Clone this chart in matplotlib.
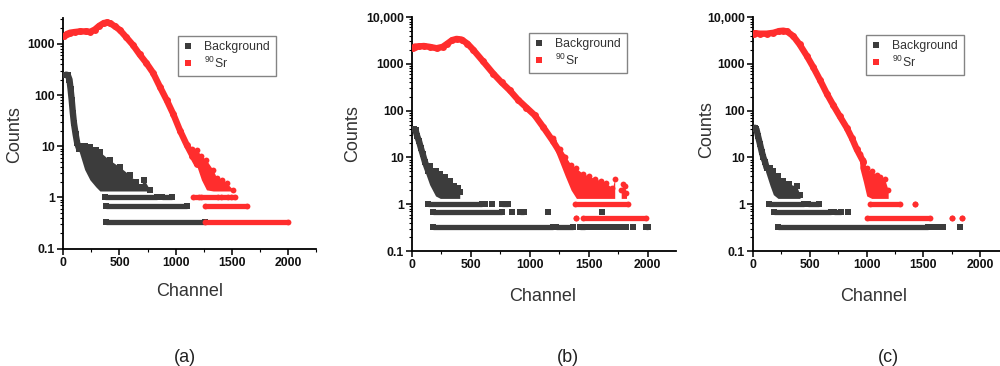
import numpy as np
import matplotlib
matplotlib.use("Agg")
import matplotlib.pyplot as plt
from matplotlib.lines import Line2D
from matplotlib.ticker import FixedLocator, FixedFormatter, MultipleLocator, LogLocator, NullFormatter

plt.rcParams['font.family'] = ['Liberation Sans', 'DejaVu Sans']
plt.rcParams['mathtext.default'] = 'regular'

GRAY = '#3c3c3c'
RED = '#ff2d2d'

x_ticks = [0, 500, 1000, 1500, 2000]
x_tick_labels = ['0', '500', '1000', '1500', '2000']
y_ticks_a = [0.1, 1, 10, 100, 1000]
y_tick_labels_a = ['0.1', '1', '10', '100', '1000']
y_ticks_bc = [0.1, 1, 10, 100, 1000, 10000]
y_tick_labels_bc = ['0.1', '1', '10', '100', '1000', '10,000']
legend_labels = ['Background', r'$^{90}$Sr']
panel_labels = ['(a)', '(b)', '(c)']

# ---------------- panel (a) ----------------
a_sr_ch = [10, 30, 60, 100, 150, 200, 240, 280, 320, 360, 390, 420, 460, 505, 560, 620, 680, 740, 800, 860, 920, 980, 1040, 1100, 1150, 1190]
a_sr_ct = [1400, 1550, 1650, 1700, 1750, 1750, 1720, 1900, 2250, 2550, 2620, 2500, 2200, 1850, 1350, 950, 620, 420, 270, 145, 80, 42, 20, 10.5, 6.5, 4.5]
a_sr_noise_ch = [1150, 1190, 1230, 1275, 1335, 1365, 1410, 1455, 1513]
a_sr_noise_hi = [9, 8.4, 6.5, 5.3, 3.4, 2.4, 2.2, 1.9, 1.4]
a_sr_noise_lo = [6, 4, 2.2, 1.4, 1.33, 1.33, 1.33, 1.33, 1.33]
a_sr_run_start = [1157, 1230, 1400, 1490, 1260, 1260]
a_sr_run_stop = [1205, 1380, 1470, 1528, 1632, 2002]
a_sr_run_level = [1.0, 1.0, 1.0, 1.0, 0.667, 0.333]

a_bg_ch = [25, 40, 55, 65, 75, 85, 95, 110, 124, 140]
a_bg_ct = [250, 245, 200, 130, 80, 45, 28, 17, 11.4, 9]
a_bg_noise_ch = [140, 190, 237, 290, 326, 415, 504, 593, 650, 682, 720, 771]
a_bg_noise_hi = [10, 10, 9.7, 8.5, 7.7, 5.3, 3.9, 2.7, 2.0, 1.6, 2.2, 1.4]
a_bg_noise_lo = [8, 3.5, 2.2, 1.6, 1.33, 1.33, 1.33, 1.33, 1.33, 1.33, 1.33, 1.33]
a_bg_run_start = [370, 876, 376, 376]
a_bg_run_stop = [831, 965, 1097, 1260]
a_bg_run_level = [1.0, 1.0, 0.667, 0.333]

# ---------------- panel (b) ----------------
b_sr_ch = [10, 25, 60, 100, 150, 209, 260, 300, 340, 378, 420, 470, 519, 600, 689, 760, 830, 900, 971, 1040, 1112, 1197, 1282, 1366]
b_sr_ct = [2200, 2340, 2350, 2400, 2300, 2150, 2300, 2700, 3200, 3400, 3300, 2700, 2000, 1150, 620, 400, 270, 170, 116, 80, 45, 22, 10, 4]
b_sr_noise_ch = [1197, 1253, 1300, 1350, 1395, 1450, 1500, 1550, 1600, 1650, 1700, 1720]
b_sr_noise_hi = [26, 15, 10, 7, 5.8, 4.5, 4, 3.5, 3.2, 2.8, 2.2, 3.5]
b_sr_noise_lo = [18, 8, 4, 2, 1.33, 1.33, 1.33, 1.33, 1.33, 1.33, 1.33, 1.33]
b_sr_noise2_ch = [1775, 1790, 1805, 1820]
b_sr_noise2_hi = [2.0, 2.7, 2.4, 1.7]
b_sr_noise2_lo = [1.33, 1.33, 1.33, 1.33]
b_sr_run_start = [1380, 1395, 1450]
b_sr_run_stop = [1830, 1395, 1988]
b_sr_run_level = [1.0, 0.5, 0.5]

b_bg_ch = [20, 30, 45, 60, 75, 90, 110, 139]
b_bg_ct = [40, 38, 28, 22, 16, 12, 8, 5]
b_bg_noise_ch = [110, 150, 200, 240, 280, 320, 360, 390, 405]
b_bg_noise_hi = [8, 6.5, 5, 4.4, 3.8, 3.2, 2.5, 2.2, 1.8]
b_bg_noise_lo = [5, 2.6, 1.5, 1.33, 1.33, 1.33, 1.33, 1.33, 1.33]
b_bg_run_start = [138, 618, 675, 760, 181, 845, 920, 1155, 1610, 181, 1225, 1422, 1493, 1536, 1578, 1626, 1677, 1733, 1776, 1818, 1875, 1988]
b_bg_run_stop = [590, 618, 675, 816, 760, 845, 950, 1155, 1610, 1197, 1366, 1465, 1493, 1536, 1578, 1626, 1677, 1733, 1776, 1818, 1875, 2005]
b_bg_run_level = [1.0, 1.0, 1.0, 1.0, 0.667, 0.667, 0.667, 0.667, 0.667, 0.333, 0.333, 0.333, 0.333, 0.333, 0.333, 0.333, 0.333, 0.333, 0.333, 0.333, 0.333, 0.333]

# ---------------- panel (c) ----------------
c_sr_ch = [10, 18, 60, 120, 180, 230, 267, 300, 355, 410, 472, 530, 590, 650, 707, 765, 825, 870, 913, 972]
c_sr_ct = [4400, 4500, 4400, 4400, 4600, 5000, 5100, 4900, 3900, 2600, 1500, 850, 450, 230, 130, 75, 43, 26, 15, 8]
c_sr_noise_ch = [940, 972, 1001, 1045, 1089, 1120, 1160, 1190]
c_sr_noise_hi = [12, 9, 5.8, 5, 4.3, 3.8, 3.4, 2.0]
c_sr_noise_lo = [6, 3, 1.5, 1.33, 1.33, 1.33, 1.33, 1.33]
c_sr_run_start = [1030, 1425, 1000, 1750, 1836]
c_sr_run_stop = [1294, 1425, 1557, 1750, 1836]
c_sr_run_level = [1.0, 1.0, 0.5, 0.5, 0.5]

c_bg_ch = [18, 30, 45, 62, 78, 91, 106, 120]
c_bg_ct = [43, 40, 28, 19, 13, 10, 8, 6]
c_bg_noise_ch = [110, 150, 179, 220, 267, 320, 384, 414]
c_bg_noise_hi = [8, 6, 5, 4, 3.2, 2.7, 2.4, 1.6]
c_bg_noise_lo = [5, 2.5, 1.6, 1.33, 1.33, 1.33, 1.33, 1.33]
c_bg_run_start = [144, 481, 188, 716, 833, 217, 1584, 1628, 1672, 1819]
c_bg_run_stop = [452, 584, 687, 775, 833, 1540, 1584, 1628, 1672, 1819]
c_bg_run_level = [1.0, 1.0, 0.667, 0.667, 0.667, 0.333, 0.333, 0.333, 0.333, 0.333]

W, H = 1000, 366
fig = plt.figure(figsize=(10, 3.66), dpi=100)

def px_axes(left, right, top, bottom):
    return fig.add_axes([left / W, 1 - bottom / H, (right - left) / W, (bottom - top) / H])

def draw_series(ax, ch, ct, nch, nhi, nlo, rs, re, rl, color, marker, extra=None):
    ms = 4.2
    ax.fill_between(nch, nlo, nhi, color=color, lw=0, zorder=2)
    ax.plot(nch, nhi, color=color, ls='none', marker=marker, ms=ms, mew=0, zorder=2)
    if extra is not None:
        ex_ch, ex_hi, ex_lo = extra
        ax.fill_between(ex_ch, ex_lo, ex_hi, color=color, lw=0, zorder=2)
        ax.plot(ex_ch, ex_hi, color=color, ls='none', marker=marker, ms=ms, mew=0, zorder=2)
    # constant-count runs: a thick bar between run ends, plus a marker at each end
    ax.hlines(rl, rs, re, colors=color, lw=3.8, zorder=2)
    ax.plot(rs, rl, color=color, ls='none', marker=marker, ms=ms, mew=0, zorder=2)
    ax.plot(re, rl, color=color, ls='none', marker=marker, ms=ms, mew=0, zorder=2)
    ax.plot(ch, ct, color=color, lw=4.6, marker=marker, ms=5, mew=0, zorder=3,
            solid_capstyle='round')

def style_axes(ax, xmax, ymax, yticks, ylabels, ylab_xy, xlab_xy):
    ax.set_yscale('log')
    ax.set_xlim(0, xmax)
    ax.set_ylim(0.1, ymax)
    for s in ('top', 'right'):
        ax.spines[s].set_visible(False)
    for s in ('left', 'bottom'):
        ax.spines[s].set_linewidth(1.3)
    ax.xaxis.set_major_locator(FixedLocator(x_ticks))
    ax.xaxis.set_major_formatter(FixedFormatter(x_tick_labels))
    ax.xaxis.set_minor_locator(MultipleLocator(250))
    ax.yaxis.set_major_locator(FixedLocator(yticks))
    ax.yaxis.set_major_formatter(FixedFormatter(ylabels))
    ax.yaxis.set_minor_locator(LogLocator(base=10, subs=np.arange(2, 10)))
    ax.yaxis.set_minor_formatter(NullFormatter())
    ax.tick_params(which='major', direction='out', length=4, width=1.2, pad=2,
                   labelsize=8.8, colors='#111')
    ax.tick_params(which='minor', direction='out', length=2, width=0.8)
    for t in ax.get_xticklabels() + ax.get_yticklabels():
        t.set_fontweight('bold')
    ax.set_ylabel('Counts', fontsize=13, color='#333')
    ax.set_xlabel('Channel', fontsize=13, color='#333')
    ax.yaxis.set_label_coords(*ylab_xy)
    ax.xaxis.set_label_coords(*xlab_xy)

def add_legend(ax, x, y):
    handles = [Line2D([], [], ls='none', marker='s', ms=4, mew=0, color=GRAY),
               Line2D([], [], ls='none', marker='s', ms=4, mew=0, color=RED)]
    leg = ax.legend(handles, legend_labels, loc='upper left',
                    bbox_to_anchor=(x / W, 1 - y / H), bbox_transform=fig.transFigure,
                    fontsize=8.8, frameon=True, fancybox=False, borderpad=0.45,
                    handlelength=0.8, handletextpad=0.9, labelspacing=0.15,
                    borderaxespad=0, labelcolor='#333')
    fr = leg.get_frame()
    fr.set_edgecolor('#666')
    fr.set_linewidth(1.0)

# (a)
axa = px_axes(63.3, 316, 18, 248.5)
draw_series(axa, a_bg_ch, a_bg_ct, a_bg_noise_ch, a_bg_noise_hi, a_bg_noise_lo,
            a_bg_run_start, a_bg_run_stop, a_bg_run_level, GRAY, 's')
draw_series(axa, a_sr_ch, a_sr_ct, a_sr_noise_ch, a_sr_noise_hi, a_sr_noise_lo,
            a_sr_run_start, a_sr_run_stop, a_sr_run_level, RED, 'o')
style_axes(axa, 2250, 3200, y_ticks_a, y_tick_labels_a, (-0.16, 0.495), (0.5, -0.15))
add_legend(axa, 178, 36)

# (b)
axb = px_axes(412, 676, 17, 251)
draw_series(axb, b_bg_ch, b_bg_ct, b_bg_noise_ch, b_bg_noise_hi, b_bg_noise_lo,
            b_bg_run_start, b_bg_run_stop, b_bg_run_level, GRAY, 's')
draw_series(axb, b_sr_ch, b_sr_ct, b_sr_noise_ch, b_sr_noise_hi, b_sr_noise_lo,
            b_sr_run_start, b_sr_run_stop, b_sr_run_level, RED, 'o',
            extra=(b_sr_noise2_ch, b_sr_noise2_hi, b_sr_noise2_lo))
style_axes(axb, 2240, 10000, y_ticks_bc, y_tick_labels_bc, (-0.193, 0.5), (0.496, -0.158))
add_legend(axb, 529, 33)

# (c)
axc = px_axes(753, 1008.6, 17, 251)
draw_series(axc, c_bg_ch, c_bg_ct, c_bg_noise_ch, c_bg_noise_hi, c_bg_noise_lo,
            c_bg_run_start, c_bg_run_stop, c_bg_run_level, GRAY, 's')
draw_series(axc, c_sr_ch, c_sr_ct, c_sr_noise_ch, c_sr_noise_hi, c_sr_noise_lo,
            c_sr_run_start, c_sr_run_stop, c_sr_run_level, RED, 'o')
style_axes(axc, 2250, 10000, y_ticks_bc, y_tick_labels_bc, (-0.149, 0.517), (0.47, -0.158))
add_legend(axc, 866, 35)

for lab, x in zip(panel_labels, [185, 568, 888]):
    fig.text(x / W, 1 - 357 / H, lab, fontsize=13, ha='center', va='center', color='#222')

fig.savefig('out.png', dpi=100, facecolor='white')
